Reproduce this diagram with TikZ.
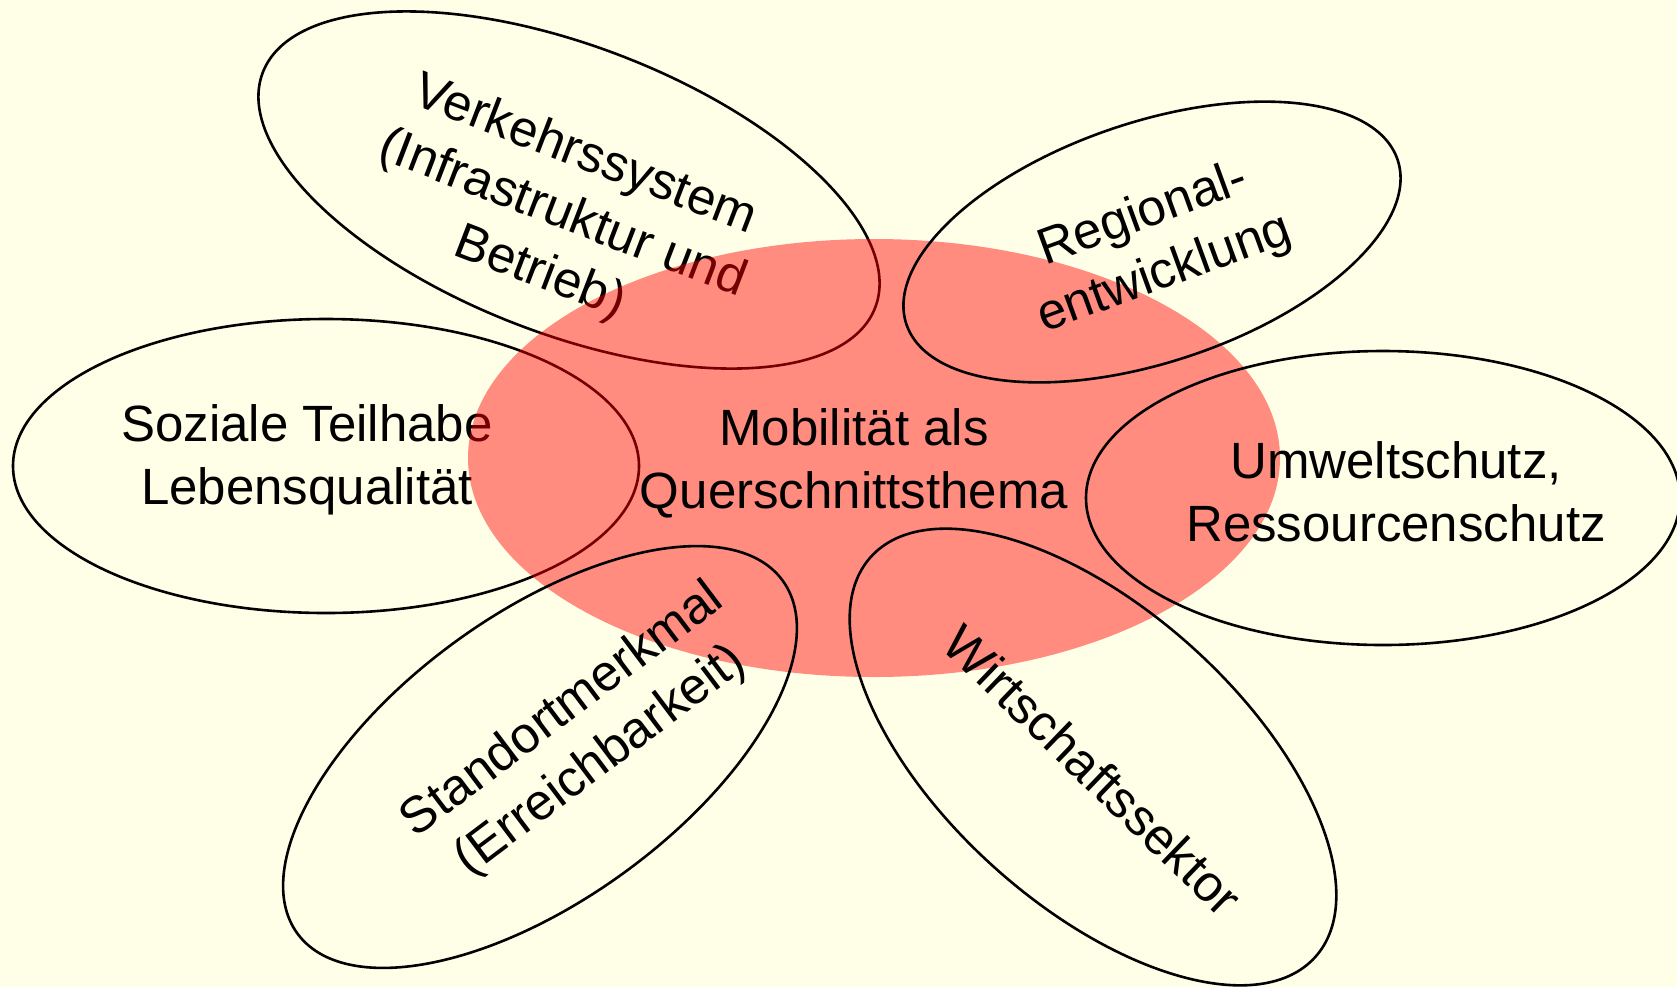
\documentclass[tikz,border=0pt]{standalone}
\usepackage{fontspec}
\setmainfont{Liberation Sans}
\usepackage{tikz}
\usetikzlibrary{shapes.geometric}

\definecolor{papier}{RGB}{255,255,232}

\begin{document}
\begin{tikzpicture}[x=0.5pt,y=-0.5pt,
	petal/.style={shape=ellipse,draw=black,line width=1.3pt,inner sep=0pt,},
	kern/.style={shape=ellipse,fill=red,fill opacity=0.45,draw=none,inner sep=0pt,},
	beschriftung/.style={align=center,inner sep=0pt,font=\fontsize{25.5}{31.5}\selectfont,},
	]
					\fill[papier] (0,0) rectangle (1677,987);
					\useasboundingbox (0,0) rectangle (1677,987);

					% unter dem Kern
					\node (verkehr) [petal,minimum width=328pt,minimum height=144pt,rotate=-21] at (569,190) {};
					\node (verkehrtext) [beschriftung,rotate=-21] at (562,215) {Verkehrssystem\\(Infrastruktur und\\Betrieb)};
					\node (sozial) [petal,minimum width=313pt,minimum height=147pt] at (326,466) {};
					\node (sozialtext) [beschriftung] at (307,460) {Soziale Teilhabe\\Lebensqualität};

					% Kern
					\node (mobil) [kern,minimum width=406pt,minimum height=219pt] at (874,458) {};

					% ueber dem Kern
					\node (regional) [petal,minimum width=259pt,minimum height=120pt,rotate=18.5] at (1152,242) {};
					\node (regionaltext) [beschriftung,rotate=20] at (1154,245) {Regional-\\entwicklung};
					\node (umwelt) [petal,minimum width=297pt,minimum height=147pt] at (1383,498) {};
					\node (umwelttext) [beschriftung] at (1396,492) {Umweltschutz,\\Ressourcenschutz};
					\node (standort) [petal,minimum width=300pt,minimum height=143pt,rotate=36] at (540,757) {};
					\node (standorttext) [beschriftung,rotate=37] at (582,736) {Standortmerkmal\\(Erreichbarkeit)};
					\node (wirtschaft) [petal,minimum width=299pt,minimum height=148pt,rotate=-42] at (1093,757) {};
					\node (wirtschafttext) [beschriftung,rotate=-44] at (1093,770) {Wirtschaftssektor};

					\node (mobiltext) [beschriftung] at (854,463) {Mobilität als\\Querschnittsthema};
				\end{tikzpicture}
\end{document}
